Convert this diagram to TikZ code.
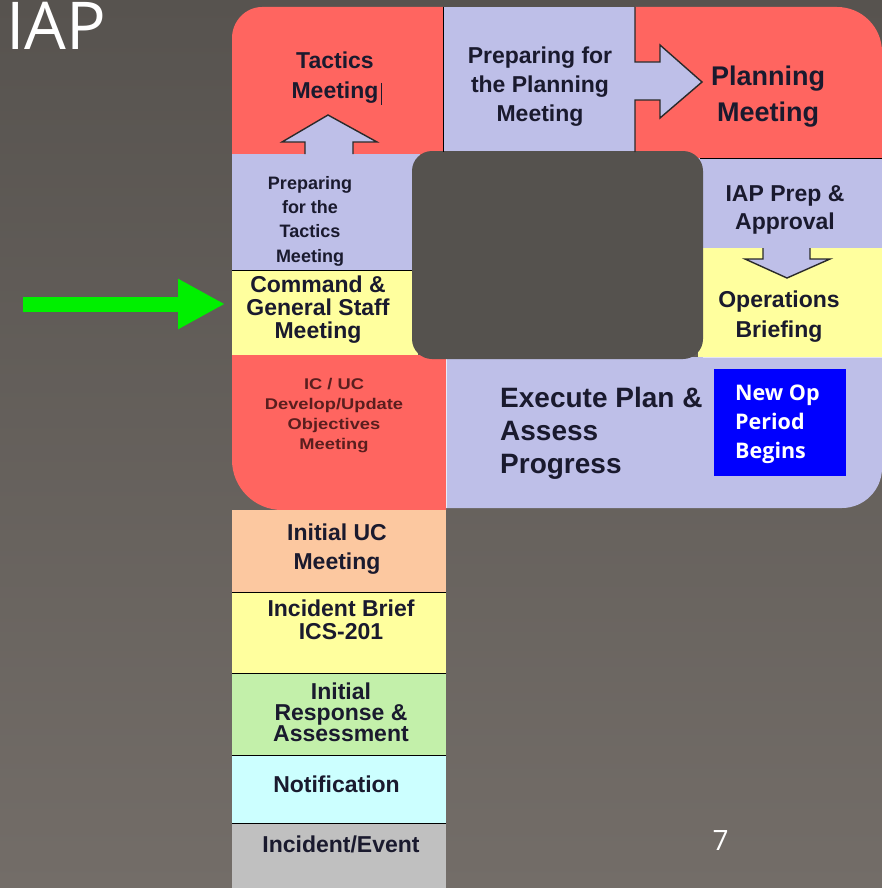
\documentclass[tikz,border=0pt]{standalone}
\usepackage{fontspec}
\setmainfont{Liberation Sans}
\newfontfamily\widefont{Liberation Sans}[FakeStretch=1.18]
\newfontfamily\osans{Open Sans}
\usetikzlibrary{arrows.meta}
\definecolor{bgtop}{HTML}{57534F}
\definecolor{bgbot}{HTML}{736D68}
\definecolor{holec}{HTML}{55524E}
\definecolor{redc}{HTML}{FF6560}
\definecolor{lav}{HTML}{BEBFE8}
\definecolor{yel}{HTML}{FFFF9E}
\definecolor{peach}{HTML}{FCC8A0}
\definecolor{grn}{HTML}{C3F0AA}
\definecolor{cyn}{HTML}{CCFFFF}
\definecolor{gry}{HTML}{C0C0C0}
\definecolor{ink}{HTML}{1A1A2E}
\definecolor{darkred}{HTML}{5A1E1E}
\definecolor{lime}{HTML}{00F000}
\definecolor{opblue}{HTML}{0000FF}
\definecolor{edge}{HTML}{2A2A2A}
\begin{document}
\begin{tikzpicture}[x=1pt,y=-1pt,
  txt/.style={text=ink, align=center, inner sep=0pt},
  f23/.style={font=\bfseries\fontsize{23}{#1}\selectfont},
  sep/.style={draw=black, line width=1pt},
  blockarrow/.style={draw=edge, line width=1.4pt, line join=miter},
  greenarrow/.style={draw=lime, line width=15pt, -{Triangle[length=47pt,width=47pt]}}
]
\useasboundingbox (0,0) rectangle (882,888);
\shade[top color=bgtop, bottom color=bgbot] (0,0) rectangle (882,888);

% top band
\fill[redc] (232,156) -- (232,38) .. controls (232,21.4) and (245.4,7) .. (262,7) -- (443,7) -- (443,156) -- cycle;
\fill[lav] (443,7) rectangle (635,160);
\fill[redc] (635,7) -- (837,7) .. controls (861.9,7) and (882,27.1) .. (882,52) -- (882,158) -- (635,158) -- cycle;
% left column
\fill[lav] (232,154) rectangle (420,270);
\node[fill=yel, minimum width=186pt, minimum height=85pt, inner sep=0pt, anchor=north west] (cmd) at (232,270) {};
% right column
\fill[lav] (698,158) rectangle (882,248);
\fill[yel] (698,248) rectangle (882,357);
% bottom band
\fill[redc] (232,355) -- (446,355) -- (446,510) -- (282,510) .. controls (254.4,510) and (232,487.6) .. (232,460) -- cycle;
\fill[lav] (446,357) -- (882,357) -- (882,468) .. controls (882,490) and (864,508) .. (842,508) -- (446,508) -- cycle;
\draw[white, opacity=0.7, line width=1pt] (446,358) -- (446,508);
\draw[white, opacity=0.6, line width=1pt] (703,357) -- (882,357);
% hole
\fill[holec, rounded corners=20pt] (412,151) rectangle (703,359);
% lower stack
\fill[peach] (232,510) rectangle (446,592);
\fill[yel] (232,592) rectangle (446,673);
\fill[grn] (232,673) rectangle (446,755);
\fill[cyn] (232,755) rectangle (446,823);
\fill[gry] (232,823) rectangle (446,888);

% separators
\draw[sep] (443,7) -- (443,152);
\draw[sep] (700,158) -- (882,158);
\draw[sep] (232,270) -- (412,270);
\draw[sep] (232,592) -- (446,592);
\draw[sep] (232,673) -- (446,673);
\draw[sep] (232,755) -- (446,755);
\draw[sep] (232,823) -- (446,823);

% block arrows
\fill[lav] (305,156) -- (305,142) -- (282,142) -- (328,115) -- (377,142) -- (353,142) -- (353,156) -- cycle;
\draw[blockarrow] (305,154) -- (305,142) -- (282,142) -- (328,115) -- (377,142) -- (353,142) -- (353,154);
\fill[lav] (634,62) -- (660,62) -- (660,45) -- (702,82) -- (660,118) -- (660,100) -- (634,100) -- cycle;
\draw[blockarrow] (635,7) -- (635,62) -- (660,62) -- (660,45) -- (702,82) -- (660,118) -- (660,100) -- (635,100) -- (635,152);
\fill[lav] (763,246) -- (763,259) -- (745,259) -- (787,278) -- (830,259) -- (810,259) -- (810,246) -- cycle;
\draw[blockarrow] (763,248) -- (763,259) -- (745,259) -- (787,278) -- (830,259) -- (810,259) -- (810,248);

% blue box
\node[fill=opblue, minimum width=132pt, minimum height=107pt, inner sep=0pt, anchor=north west] (newop) at (714,369) {};

% texts
\node[txt, f23=30] (tactics) at (335,78) {Tactics\\Meeting};
\draw[ink, line width=0.8pt] (381,83) -- (381,105);
\node[txt, f23=29] (prepplan) at (540,87) {Preparing for\\the Planning\\Meeting};
\node[txt, font=\bfseries\fontsize{27}{36}\selectfont] (planning) at (768,96.5) {Planning\\Meeting};
\node[txt, font=\bfseries\fontsize{18}{24.3}\selectfont] (preptac) at (310,221) {Preparing\\for the\\Tactics\\Meeting};
\node[txt, f23=23] (cmdtxt) at (318,310) {Command \&\\General Staff\\Meeting};
\node[txt, f23=28.5] (iapprep) at (785,210) {IAP Prep \&\\Approval};
\node[txt, f23=30] (ops) at (779,317) {Operations\\Briefing};
\node[txt, text=darkred, font=\widefont\bfseries\fontsize{15.5}{20.3}\selectfont] (icuc) at (334,415.5) {IC / UC\\Develop/Update\\Objectives\\Meeting};
\node[txt, align=left, anchor=west, font=\bfseries\fontsize{28}{33}\selectfont] (execute) at (500,433) {Execute Plan \&\\Assess\\Progress};
\node[txt, align=left, anchor=west, text=white, font=\osans\bfseries\fontsize{21.5}{29}\selectfont] (newoptxt) at (735,424.5) {New Op\\Period\\Begins};
\node[txt, f23=29] (iuc) at (337,548.7) {Initial UC\\Meeting};
\node[txt, f23=22.5] (brief) at (341,619.7) {Incident Brief\\ICS-201};
\node[txt, f23=21] (initresp) at (341,712.7) {Initial\\Response \&\\Assessment};
\node[txt, f23=23] (notif) at (336.5,784.7) {Notification};
\node[txt, f23=23] (event) at (341,844.7) {Incident/Event};
\node[anchor=base west, inner sep=0pt, text=white, font=\osans\fontsize{66}{66}\selectfont] (title) at (6,50) {IAP};
\node[inner sep=0pt, text=white, font=\osans\fontsize{28}{30}\selectfont] (pagenum) at (720.5,840.5) {7};

% green pointer
\coordinate (gstart) at (23,304);
\draw[greenarrow, shorten >=7pt] (gstart) -- (gstart -| cmd.west);
\end{tikzpicture}
\end{document}
